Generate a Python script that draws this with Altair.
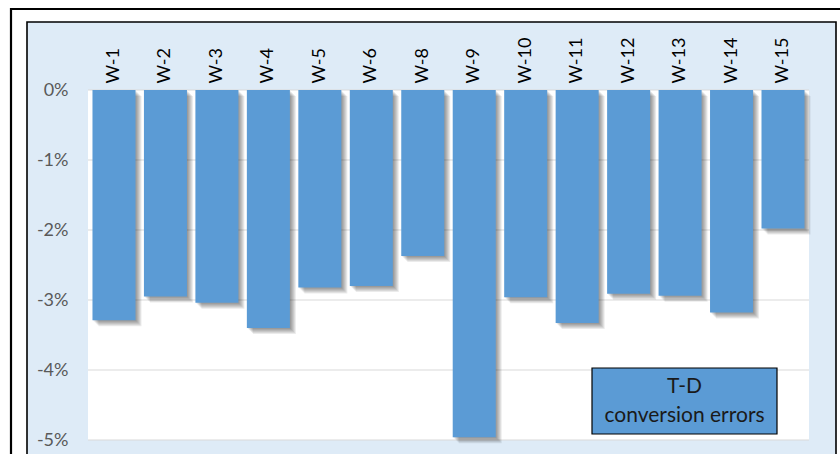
import altair as alt
import pandas as pd

# ---- data ----
categories = ["W-1", "W-2", "W-3", "W-4", "W-5", "W-6", "W-8", "W-9",
              "W-10", "W-11", "W-12", "W-13", "W-14", "W-15"]
errors_pct = [-3.29, -2.95, -3.04, -3.40, -2.82, -2.80, -2.37, -4.96,
              -2.96, -3.33, -2.91, -2.94, -3.18, -1.98]
tick_values = [0, -1, -2, -3, -4, -5]
legend_lines = ["T-D", "conversion errors"]

W, H = 721, 350
PAD_L, PAD_T = 88, 90
FONT = "Lato"
BAR = "#5B9BD5"

df = pd.DataFrame({"cat": categories, "v": errors_pct})

xscale = alt.Scale(domain=categories, paddingInner=0.164, paddingOuter=0.087)
yscale = alt.Scale(domain=[-5, 0], nice=False)

x_axis = alt.Axis(orient="top", labelAngle=-90, title=None, domain=False,
                  ticks=False, tickSize=0, labelPadding=7, labelFont=FONT,
                  labelFontSize=18, labelColor="#000000", zindex=2, grid=False)
y_axis = alt.Axis(values=tick_values, title=None, grid=False, domain=False,
                  ticks=False, tickSize=0, labelPadding=20, labelFont=FONT,
                  labelFontSize=18, labelColor="#595959", zindex=2,
                  labelExpr="(datum.value < 0 ? '-' : '') + abs(datum.value) + '%'")

x_enc = alt.X("cat:N", scale=xscale, sort=categories, axis=x_axis)
y_enc = alt.Y("v:Q", scale=yscale, axis=y_axis)

one = alt.Data(values=[{}])

outer = alt.Chart(one).mark_rect(fill=None, stroke="#000000", strokeWidth=2.2).encode(
    x=alt.value(-77), x2=alt.value(800), y=alt.value(-81), y2=alt.value(420))
inner = alt.Chart(one).mark_rect(fill="#DEEBF7", stroke="#000000", strokeWidth=1.6).encode(
    x=alt.value(-61), x2=alt.value(748), y=alt.value(-68), y2=alt.value(420))
plotbg = alt.Chart(one).mark_rect(fill="#FFFFFF").encode(
    x=alt.value(0), x2=alt.value(W), y=alt.value(0), y2=alt.value(H))

grid = alt.Chart(pd.DataFrame({"v": tick_values})).mark_rule(
    color="#D9D9D9", strokeWidth=1.2).encode(
    y=y_enc, x=alt.value(0), x2=alt.value(W))

shadows = []
for off in [1, 2, 3, 4, 5, 6]:
    shadows.append(alt.Chart(df).mark_bar(color="#000000", opacity=0.08,
                                          xOffset=off, yOffset=off).encode(
        x=x_enc, y=y_enc))

bars = alt.Chart(df).mark_bar(color=BAR).encode(x=x_enc, y=y_enc)

lbox = alt.Chart(one).mark_rect(fill=BAR, stroke="#000000", strokeWidth=1.2).encode(
    x=alt.value(504), x2=alt.value(689), y=alt.value(278), y2=alt.value(344))
ltext = alt.Chart(one).mark_text(font=FONT, fontSize=21, color="#1A1A1A",
                                 align="center", baseline="middle", lineHeight=29).encode(
    x=alt.value(596.5), y=alt.value(297), text=alt.value(legend_lines))

chart = alt.layer(outer, inner, plotbg, grid, *shadows, bars, lbox, ltext).properties(
    width=W, height=H,
    autosize=alt.AutoSizeParams(type="none"),
    padding={"left": PAD_L, "top": PAD_T, "right": 840 - PAD_L - W, "bottom": 454 - PAD_T - H},
    background="#FFFFFF",
).configure_view(stroke=None)

chart.save("out.html", embed_options={"renderer": "svg", "actions": False})
